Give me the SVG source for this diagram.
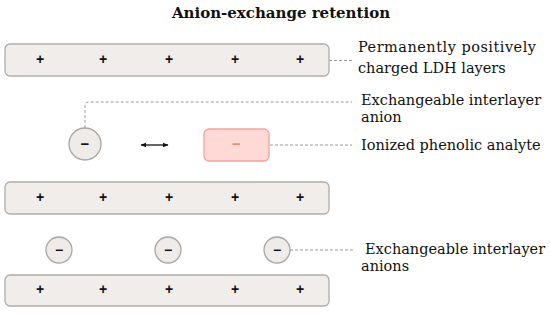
<svg xmlns="http://www.w3.org/2000/svg" width="550" height="314" viewBox="0 0 550 314">
<defs>
<style>
.bar{fill:#f0edea;stroke:#b0aeab;stroke-width:1.3}
.ion{fill:#eeebe8;stroke:#a8a6a3;stroke-width:1.3}
.plus{font-family:"Liberation Sans",Arial,sans-serif;font-size:14px;font-weight:bold;fill:#111;text-anchor:middle}
.minus{font-family:"Liberation Sans",Arial,sans-serif;font-weight:bold;fill:#111;text-anchor:middle}
.lbl{font-family:"DejaVu Serif",serif;font-size:14.5px;fill:#111}
.lead{fill:none;stroke:#9a9a9a;stroke-width:1;stroke-dasharray:3 2}
</style>
<marker id="ah" viewBox="0 0 10 10" refX="9" refY="5" markerWidth="4.5" markerHeight="4.5" orient="auto-start-reverse">
<path d="M0,1 L10,5 L0,9 z" fill="#111"/>
</marker>
</defs>
<rect width="550" height="314" fill="#fff"/>
<text x="281" y="18" text-anchor="middle" style="font-family:'DejaVu Serif',serif;font-weight:bold;font-size:15px;fill:#111">Anion-exchange retention</text>

<g id="connectors">
<path class="lead" d="M329,60.5 H352"/>
<path class="lead" d="M85,128 V106 Q85,102 89,102 H352"/>
<path class="lead" d="M270,145 H352"/>
<path class="lead" d="M290,250 H353"/>
<path d="M141,145 H168" stroke="#111" stroke-width="1.3" marker-start="url(#ah)" marker-end="url(#ah)"/>
</g>

<g id="layer-top">
<rect class="bar" x="5" y="44" width="324" height="32" rx="5"/>
<text class="plus" x="40" y="64">+</text>
<text class="plus" x="103" y="64">+</text>
<text class="plus" x="169" y="64">+</text>
<text class="plus" x="235" y="64">+</text>
<text class="plus" x="300" y="64">+</text>
</g>

<g id="anion-exchange">
<circle class="ion" cx="85" cy="144" r="16"/>
<text class="minus" x="85" y="149" font-size="15">−</text>
</g>

<g id="analyte">
<rect x="204" y="129" width="65" height="32" rx="5" fill="#ffd9d5" stroke="#f4a39b" stroke-width="1.3"/>
<text x="236.5" y="148.5" text-anchor="middle" style="font-family:'Liberation Sans',Arial,sans-serif;font-size:15px;font-weight:bold;fill:#f08a80">−</text>
</g>

<g id="layer-middle">
<rect class="bar" x="5" y="182" width="324" height="32" rx="5"/>
<text class="plus" x="40" y="202">+</text>
<text class="plus" x="103" y="202">+</text>
<text class="plus" x="169" y="202">+</text>
<text class="plus" x="235" y="202">+</text>
<text class="plus" x="300" y="202">+</text>
</g>

<g id="interlayer-anions">
<circle class="ion" cx="59" cy="250" r="13"/>
<circle class="ion" cx="168" cy="250" r="13"/>
<circle class="ion" cx="277" cy="250" r="13"/>
<text class="minus" x="59" y="255" font-size="14">−</text>
<text class="minus" x="168" y="255" font-size="14">−</text>
<text class="minus" x="277" y="255" font-size="14">−</text>
</g>

<g id="layer-bottom">
<rect class="bar" x="5" y="275" width="324" height="31" rx="5"/>
<text class="plus" x="40" y="294">+</text>
<text class="plus" x="103" y="294">+</text>
<text class="plus" x="169" y="294">+</text>
<text class="plus" x="235" y="294">+</text>
<text class="plus" x="300" y="294">+</text>
</g>

<g id="labels">
<text class="lbl" x="358" y="52" textLength="178" lengthAdjust="spacing">Permanently positively</text>
<text class="lbl" x="358" y="73">charged LDH layers</text>
<text class="lbl" x="361" y="105">Exchangeable interlayer</text>
<text class="lbl" x="361" y="122">anion</text>
<text class="lbl" x="361" y="150">Ionized phenolic analyte</text>
<text class="lbl" x="365" y="254">Exchangeable interlayer</text>
<text class="lbl" x="361" y="271">anions</text>
</g>
</svg>
